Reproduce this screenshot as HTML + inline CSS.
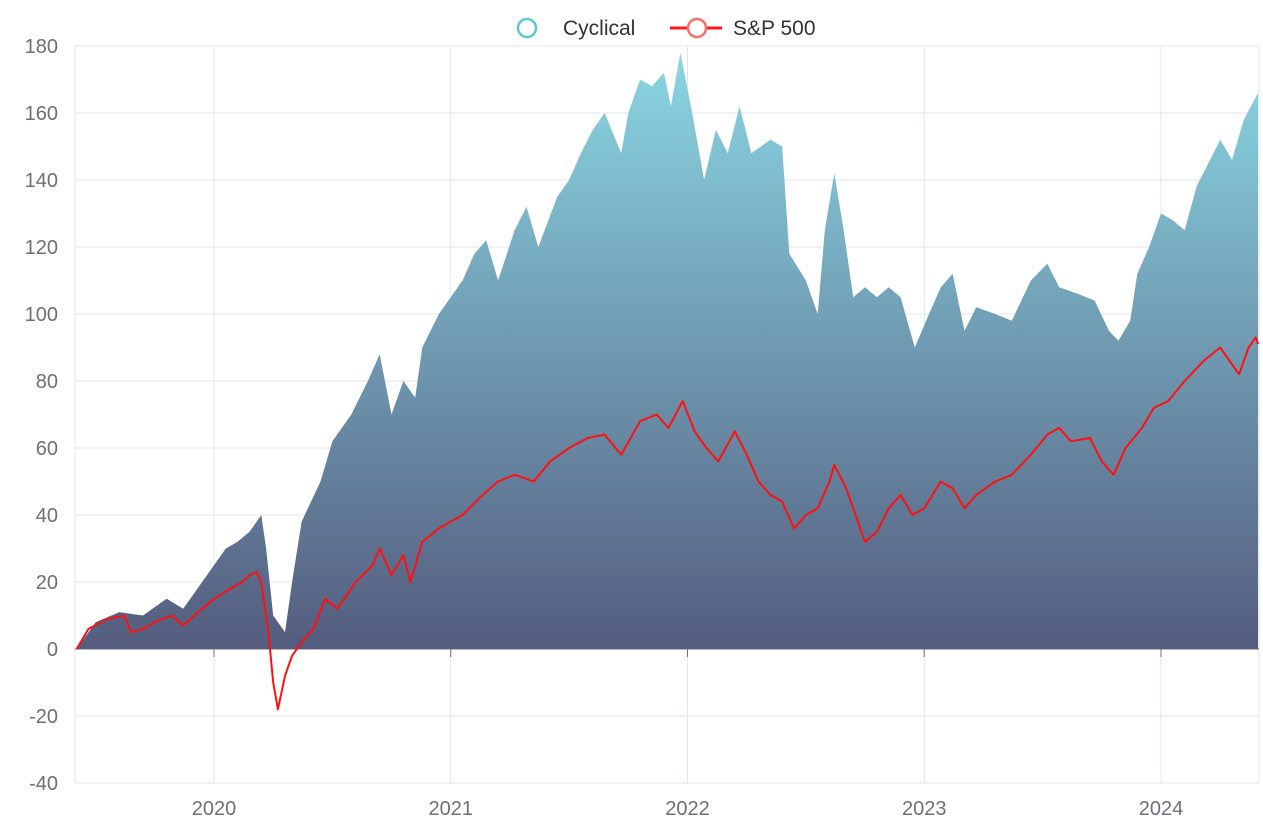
<!DOCTYPE html>
<html><head><meta charset="utf-8"><style>
html,body{margin:0;padding:0;background:#fff;}
svg{display:block;font-family:"Liberation Sans",sans-serif;}
</style></head><body>
<svg id="chart" width="1263" height="831" viewBox="0 0 1263 831" xmlns="http://www.w3.org/2000/svg">
<defs>
<linearGradient id="grad" x1="0" y1="0" x2="0" y2="1">
<stop offset="0" stop-color="#8ad6e3"/>
<stop offset="1" stop-color="#545c7e"/>
</linearGradient>
</defs>
<g id="grid"></g>
<g id="yaxis"></g>
<g id="xaxis"></g>
<g id="series"></g>
<g>
<g>
<circle cx="527" cy="28" r="9" fill="#fff" stroke="#5bc8d8" stroke-width="2.5"/>
<text x="563" y="35" font-size="21" fill="#333">Cyclical</text>
</g>
<g>
<line x1="670" y1="28" x2="722" y2="28" stroke="#ff1a1a" stroke-width="3"/>
<circle cx="697" cy="28" r="9" fill="#fff" stroke="#ff6b6b" stroke-width="2.5"/>
<text x="733" y="35" font-size="21" fill="#333">S&amp;P 500</text>
</g>
</g>
</svg>
<script>
const cycDates=[2019.42,2019.5,2019.6,2019.7,2019.8,2019.87,2019.95,2020.0,2020.05,2020.1,2020.15,2020.2,2020.22,2020.25,2020.3,2020.33,2020.37,2020.45,2020.5,2020.58,2020.65,2020.7,2020.75,2020.8,2020.85,2020.88,2020.95,2021.0,2021.05,2021.1,2021.15,2021.2,2021.27,2021.32,2021.37,2021.45,2021.5,2021.55,2021.6,2021.65,2021.72,2021.75,2021.8,2021.85,2021.9,2021.93,2021.97,2022.02,2022.07,2022.12,2022.17,2022.22,2022.27,2022.35,2022.4,2022.43,2022.5,2022.55,2022.58,2022.62,2022.66,2022.7,2022.75,2022.8,2022.85,2022.9,2022.96,2023.02,2023.07,2023.12,2023.17,2023.22,2023.3,2023.37,2023.45,2023.52,2023.57,2023.65,2023.72,2023.78,2023.82,2023.87,2023.9,2023.95,2024.0,2024.05,2024.1,2024.15,2024.2,2024.25,2024.3,2024.35,2024.41];
const cycValues=[0,8,11,10,15,12,20,25,30,32,35,40,30,10,5,20,38,50,62,70,80,88,70,80,75,90,100,105,110,118,122,110,125,132,120,135,140,148,155,160,148,160,170,168,172,162,178,160,140,155,148,162,148,152,150,118,110,100,125,142,125,105,108,105,108,105,90,100,108,112,95,102,100,98,110,115,108,106,104,95,92,98,112,120,130,128,125,138,145,152,146,158,166];
const spDates=[2019.42,2019.47,2019.55,2019.62,2019.65,2019.7,2019.75,2019.82,2019.87,2019.95,2020.0,2020.07,2020.12,2020.15,2020.18,2020.2,2020.23,2020.25,2020.27,2020.3,2020.33,2020.37,2020.42,2020.47,2020.52,2020.6,2020.67,2020.7,2020.75,2020.8,2020.83,2020.88,2020.95,2021.0,2021.05,2021.12,2021.2,2021.27,2021.35,2021.42,2021.5,2021.58,2021.65,2021.72,2021.8,2021.87,2021.92,2021.98,2022.03,2022.08,2022.13,2022.2,2022.25,2022.3,2022.35,2022.4,2022.45,2022.5,2022.55,2022.6,2022.62,2022.67,2022.72,2022.75,2022.8,2022.85,2022.9,2022.95,2023.0,2023.07,2023.12,2023.17,2023.22,2023.3,2023.37,2023.45,2023.52,2023.57,2023.62,2023.7,2023.75,2023.8,2023.85,2023.92,2023.97,2024.03,2024.1,2024.18,2024.25,2024.3,2024.33,2024.37,2024.4,2024.41];
const spValues=[0,6,9,10,5,6,8,10,7,12,15,18,20,22,23,20,5,-10,-18,-8,-2,2,6,15,12,20,25,30,22,28,20,32,36,38,40,45,50,52,50,56,60,63,64,58,68,70,66,74,65,60,56,65,58,50,46,44,36,40,42,50,55,48,38,32,35,42,46,40,42,50,48,42,46,50,52,58,64,66,62,63,56,52,60,66,72,74,80,86,90,85,82,90,93,91];
const yTicks=[-40,-20,0,20,40,60,80,100,120,140,160,180];
const xTicks=[2020,2021,2022,2023,2024];

const NS="http://www.w3.org/2000/svg";
const X0=75,X1=1259,XMIN=2019.413,XMAX=2024.414;
const yS=v=>649-v*(603/180);
const xS=t=>X0+(t-XMIN)/(XMAX-XMIN)*(X1-X0);
function mk(tag,attrs,parent){const e=document.createElementNS(NS,tag);for(const k in attrs)e.setAttribute(k,attrs[k]);parent.appendChild(e);return e;}
const grid=document.getElementById('grid'),ya=document.getElementById('yaxis'),xa=document.getElementById('xaxis'),ser=document.getElementById('series');
yTicks.forEach(v=>{
  const l=mk('line',{x1:X0,x2:X1,y1:yS(v),y2:yS(v),stroke:'#e0e6f1','stroke-width':1},grid);
  
  
  const t=mk('text',{x:58,y:yS(v)+7,'text-anchor':'end','font-size':20,fill:'#6e7079'},ya);
  t.textContent=v;
  
  
});
xTicks.forEach(v=>{
  const l=mk('line',{x1:xS(v),x2:xS(v),y1:46,y2:783,stroke:'#e0e6f1','stroke-width':1},grid);
  
  
  const tk=mk('line',{x1:xS(v),x2:xS(v),y1:yS(0),y2:yS(0)+8,stroke:'#6e7079','stroke-width':1},xa);
  
  
  const t=mk('text',{x:xS(v),y:815,'text-anchor':'middle','font-size':20,fill:'#6e7079'},xa);
  t.textContent=v;
  
  
});
mk('line',{x1:X0,x2:X0,y1:46,y2:783,stroke:'#e0e6f1'},grid);
mk('line',{x1:X1,x2:X1,y1:46,y2:783,stroke:'#e0e6f1'},grid);
let d='M'+xS(cycDates[0])+','+yS(0);
cycDates.forEach((t,i)=>{d+=' L'+xS(t).toFixed(1)+','+yS(cycValues[i]).toFixed(1);});
d+=' L'+xS(cycDates[cycDates.length-1])+','+yS(0)+' Z';
const area=mk('path',{d:d,fill:'url(#grad)'},ser);


const ax=mk('line',{x1:X0,x2:X1,y1:yS(0),y2:yS(0),stroke:'#6e7079','stroke-width':1},xa);


const pts=spDates.map((t,i)=>xS(t).toFixed(1)+','+yS(spValues[i]).toFixed(1)).join(' ');
const line=mk('polyline',{points:pts,fill:'none',stroke:'#ff1010','stroke-width':2,'stroke-linejoin':'round'},ser);


</script>
</body></html>
